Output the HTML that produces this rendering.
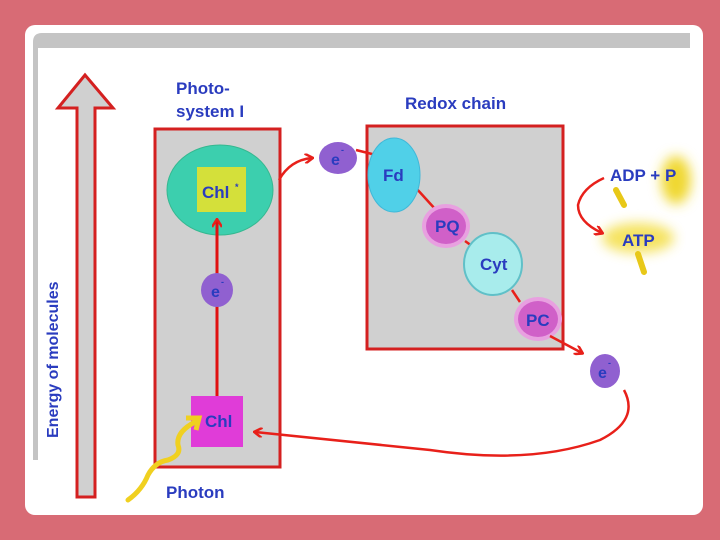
<!DOCTYPE html>
<html><head><meta charset="utf-8"><style>
html,body{margin:0;padding:0;background:#d86b75;}
svg{display:block;}
text{font-family:"Liberation Sans",sans-serif;font-weight:bold;fill:#2a3cbf;}
</style></head><body>
<svg width="720" height="540" viewBox="0 0 720 540" xmlns="http://www.w3.org/2000/svg">
<defs>
<filter id="blur" x="-80%" y="-80%" width="260%" height="260%"><feGaussianBlur stdDeviation="6"/></filter>
<marker id="ah" markerWidth="10" markerHeight="10" refX="8" refY="5" orient="auto" markerUnits="userSpaceOnUse"><path d="M1,0 L9,5 L1,10" fill="none" stroke="#e8201a" stroke-width="2.5"/></marker>
</defs>
<rect x="25" y="25" width="678" height="490" rx="10" fill="#fff"/>
<path d="M33,460 L33,42 Q33,33 42,33 L690,33 L690,48 L38,48 L38,460 Z" fill="#c4c4c4"/>
<path d="M77,497 L77,108 L58,108 L85,75 L113,108 L95,108 L95,497 Z" fill="#d0d0d0" stroke="#d42020" stroke-width="3"/>
<text transform="translate(58,438) rotate(-90)" font-size="16">Energy of molecules</text>
<text x="176" y="94" font-size="17">Photo-</text>
<text x="176" y="117" font-size="17">system I</text>
<text x="405" y="109" font-size="17">Redox chain</text>
<rect x="155" y="129" width="125" height="338" fill="#d0d0d0" stroke="#d42020" stroke-width="3"/>
<ellipse cx="220" cy="190" rx="53" ry="45" fill="#3ccfae" stroke="#35b890" stroke-width="1"/>
<rect x="197" y="167" width="49" height="45" fill="#d4e03a"/>
<text x="202" y="198" font-size="17">Chl</text><text x="235" y="190" font-size="9">*</text>
<line x1="217" y1="399" x2="217" y2="220" stroke="#e01010" stroke-width="3" marker-end="url(#ah)"/>
<ellipse cx="217" cy="290" rx="16" ry="17" fill="#9060d0"/>
<text x="211" y="297" font-size="16">e</text><text x="221" y="285" font-size="9">-</text>
<rect x="191" y="396" width="52" height="51" fill="#e03cd8"/>
<text x="205" y="427" font-size="17">Chl</text>
<path d="M128,500 Q142,490 148,475 Q155,462 168,460 Q182,455 178,445 Q176,432 195,422" fill="none" stroke="#f0d020" stroke-width="5" stroke-linecap="round"/>
<path d="M186,418 L199,418 L196,430" fill="none" stroke="#f0d020" stroke-width="5"/>
<text x="166" y="498" font-size="17">Photon</text>
<rect x="367" y="126" width="196" height="223" fill="#d0d0d0" stroke="#d42020" stroke-width="3"/>
<path d="M279,180 Q290,160 312,158" fill="none" stroke="#e8201a" stroke-width="2.5" marker-end="url(#ah)"/>
<ellipse cx="338" cy="158" rx="19" ry="16" fill="#9060d0"/>
<text x="331" y="165" font-size="16">e</text><text x="341" y="153" font-size="9">-</text>
<path d="M356,150 L376,155" stroke="#e8201a" stroke-width="2.5"/>
<path d="M416,188 L436,210 M465,241 L472,246 M512,290 L520,302" stroke="#e8201a" stroke-width="2.5"/>
<ellipse cx="394" cy="175" rx="26" ry="37" fill="#50d0e8" stroke="#40b8d8"/>
<text x="383" y="181" font-size="17">Fd</text>
<ellipse cx="446" cy="226" rx="24" ry="22" fill="#e8a0e0"/>
<ellipse cx="446" cy="226" rx="20" ry="18" fill="#d060c8"/>
<text x="435" y="232" font-size="17">PQ</text>
<ellipse cx="493" cy="264" rx="29" ry="31" fill="#a8ecec" stroke="#60c0c8" stroke-width="2"/>
<text x="480" y="270" font-size="17">Cyt</text>
<ellipse cx="538" cy="319" rx="24" ry="22" fill="#e8a0e0"/>
<ellipse cx="538" cy="319" rx="20" ry="18" fill="#d060c8"/>
<text x="526" y="326" font-size="17">PC</text>
<line x1="550" y1="336" x2="582" y2="353" stroke="#e8201a" stroke-width="2.5" marker-end="url(#ah)"/>
<ellipse cx="605" cy="371" rx="15" ry="17" fill="#9060d0"/>
<text x="598" y="378" font-size="16">e</text><text x="608" y="366" font-size="9">-</text>
<path d="M624,390 Q640,420 600,440 Q530,465 430,450 Q330,440 255,432" fill="none" stroke="#e8201a" stroke-width="2.5" marker-end="url(#ah)"/>
<ellipse cx="676" cy="180" rx="15" ry="24" fill="#f0d830" filter="url(#blur)"/>
<ellipse cx="638" cy="238" rx="36" ry="15" fill="#f4e050" filter="url(#blur)" opacity="0.9"/>
<path d="M616,190 L624,205 M638,254 L644,272" stroke="#e8c818" stroke-width="6" stroke-linecap="round"/>
<text x="610" y="181" font-size="17">ADP + P</text>
<text x="622" y="246" font-size="17">ATP</text>
<path d="M604,178 Q582,188 578,205 Q578,222 602,233" fill="none" stroke="#e8201a" stroke-width="2.5" marker-end="url(#ah)"/>
</svg>
</body></html>
